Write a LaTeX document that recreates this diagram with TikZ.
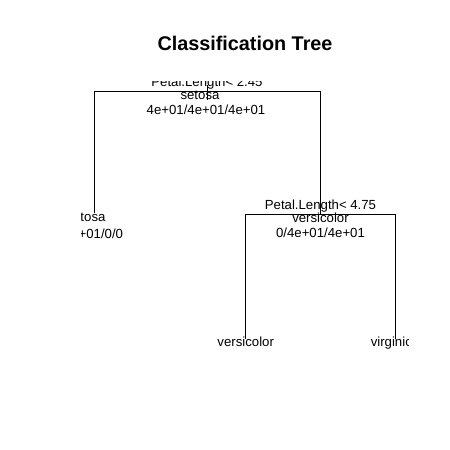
\documentclass[tikz,border=0pt]{standalone}
\usepackage{fontspec}
\setmainfont{Liberation Sans}
\begin{document}
\begin{tikzpicture}[x=1pt,y=-1pt,
  branch/.style={draw=black,line width=0.9pt},
  lbl/.style={inner sep=0pt,anchor=base,font=\fontsize{13.2}{14}\selectfont},
  ttl/.style={inner sep=0pt,anchor=base,font=\fontsize{19.8}{22}\selectfont\bfseries}]
\fill[white] (0,0) rectangle (450,450);
\useasboundingbox (0,0) rectangle (450,450);
\node[ttl] (title) at (245,50) {Classification Tree};
% tree node points
\coordinate (root) at (207,91.5);
\coordinate (rtop) at (207,85);
\coordinate (rbot) at (207,100);
\coordinate (L) at (94,213);
\coordinate (R) at (320.5,214);
\coordinate (RL) at (245.7,339);
\coordinate (RR) at (395,339);
% branches
\draw[branch] (L) -- (L |- root) -- (R |- root) -- (R);
\draw[branch] (rtop) -- (rbot);
\draw[branch] (RL) -- (RL |- R) -- (RR |- R) -- (RR);
% labels, clipped to the plot region
\begin{scope}
\clip (81,81.5) rectangle (408,380);
\node[lbl] (rootsplit) at (207,86.5) {Petal.Length< 2.45};
\node[lbl] (rootclass) at (200,99.5) {setosa};
\node[lbl] (rootcount) at (206,114.5) {4e+01/4e+01/4e+01};
\node[lbl] (Lclass) at (86,221.7) {setosa};
\node[lbl] (Lcount) at (93.5,238) {4e+01/0/0};
\node[lbl] (Rsplit) at (320.5,209.5) {Petal.Length< 4.75};
\node[lbl] (Rclass) at (320.5,222) {versicolor};
\node[lbl] (Rcount) at (320.5,237) {0/4e+01/4e+01};
\node[lbl] (RLclass) at (245.7,346) {versicolor};
\node[lbl] (RRclass) at (395,346) {virginica};
\end{scope}
\end{tikzpicture}
\end{document}
